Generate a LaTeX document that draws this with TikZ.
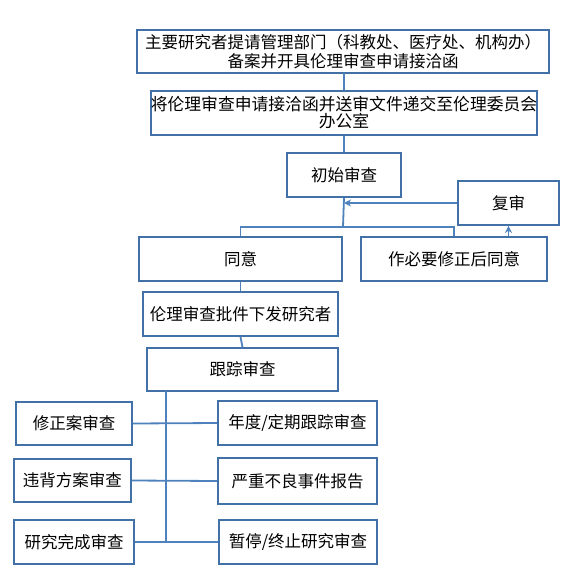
\documentclass[tikz,border=0pt]{standalone}
\usepackage{fontspec}
\newfontfamily\cjk{Noto Sans CJK SC}
\usetikzlibrary{arrows.meta}
\definecolor{boxline}{RGB}{65,113,166}
\definecolor{conline}{RGB}{79,129,189}
\tikzset{
  stepbox/.style={draw=boxline, line width=1.9pt, fill=white, inner sep=0pt,
    align=center, font=\cjk\fontsize{16.5}{20}\selectfont},
  conn/.style={draw=conline, line width=1.8pt},
  arr/.style={conn, -{Stealth[length=7pt,width=7pt]}}
}
\begin{document}
\begin{tikzpicture}[x=1pt,y=-1pt]
\useasboundingbox (0,0) rectangle (570,576);
\fill[white] (0,0) rectangle (570,576);
% nodes
\node[stepbox, minimum width=412pt, minimum height=43pt] (b1) at (343,51.5)
  {主要研究者提请管理部门（科教处、医疗处、机构办）\\[-1pt]备案并开具伦理审查申请接洽函};
\node[stepbox, minimum width=386pt, minimum height=44pt, font=\cjk\fontsize{16.8}{17}\selectfont] (b2) at (344,113)
  {将伦理审查申请接洽函并送审文件递交至伦理委员会\\办公室};
\node[stepbox, minimum width=114pt, minimum height=44pt] (init) at (344,175) {初始审查};
\node[stepbox, minimum width=101pt, minimum height=44pt] (fs) at (508.5,203) {复审};
\node[stepbox, minimum width=203pt, minimum height=44pt] (ty) at (240.5,259) {同意};
\node[stepbox, minimum width=186pt, minimum height=44pt] (zx) at (454,259) {作必要修正后同意};
\node[stepbox, minimum width=195pt, minimum height=44pt] (pz) at (240.5,314) {伦理审查批件下发研究者};
\node[stepbox, minimum width=191pt, minimum height=43pt] (gz) at (242.5,369.5) {跟踪审查};
\node[stepbox, minimum width=116pt, minimum height=43pt] (xz) at (74,423.5) {修正案审查};
\node[stepbox, minimum width=159pt, minimum height=44pt] (nd) at (297.5,423) {年度/定期跟踪审查};
\node[stepbox, minimum width=117pt, minimum height=43pt] (wb) at (72.5,480.5) {违背方案审查};
\node[stepbox, minimum width=159pt, minimum height=46pt] (yz) at (297.5,481) {严重不良事件报告};
\node[stepbox, minimum width=120pt, minimum height=44pt] (wc) at (74,542) {研究完成审查};
\node[stepbox, minimum width=158pt, minimum height=44pt] (zt) at (298,542) {暂停/终止研究审查};
% junction coordinates
\coordinate (j) at (343,227);
\coordinate (t1) at (166,391);
\coordinate (t2) at (166,542);
% connectors
\draw[conn] (b1.south) -- (b2.south |- b1.south) -- (b2.north);
\draw[conn] (b2.south) -- (init.north);
\draw[conn] (init.south) -- (j);
\draw[conn] (ty.north) |- (j) -| (zx.north);
\draw[arr] (fs.west) -- (fs.west -| init.south);
\draw[arr] (fs.south |- zx.north) -- (fs.south);
\draw[conn] (ty.south) -- (pz.north);
\draw[conn] (pz.south) -- (gz.north);
\draw[conn] (t1) -- (t2);
\draw[conn] (xz.east) -- (nd.west);
\draw[conn] (wb.east) -- (yz.west);
\draw[conn] (wc.east) -- (zt.west);
\end{tikzpicture}
\end{document}
